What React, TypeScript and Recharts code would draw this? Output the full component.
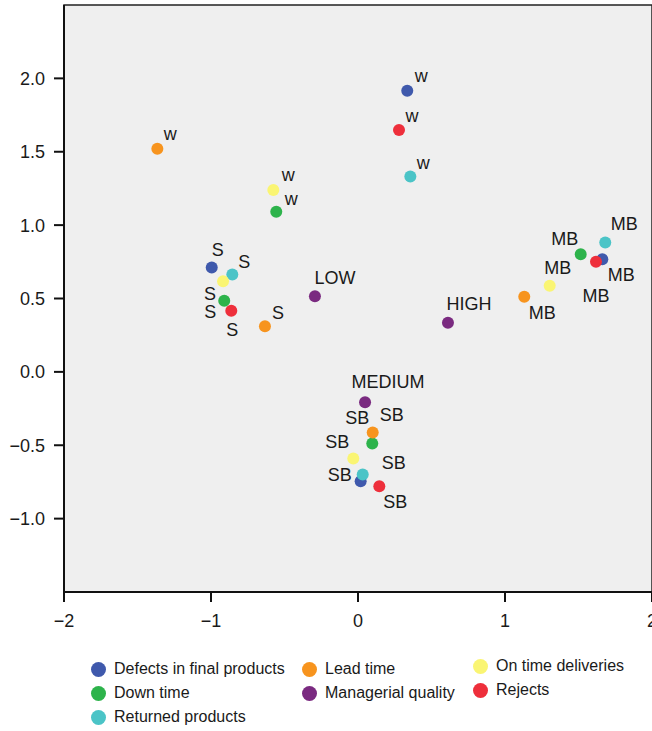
import React from 'react';
import { ScatterChart, Scatter, XAxis, YAxis, ReferenceArea } from 'recharts';

// cluster labels shared by the six indicators
const CLUSTER_LABELS = ['w', 'S', 'MB', 'SB'];
const QUALITY_LABELS = ['LOW', 'HIGH', 'MEDIUM'];

const defectsX = [0.335, -0.995, 1.662, 0.018];
const defectsY = [1.916, 0.712, 0.767, -0.746];
const downTimeX = [-0.556, -0.91, 1.515, 0.097];
const downTimeY = [1.091, 0.485, 0.801, -0.488];
const returnedX = [0.356, -0.855, 1.682, 0.032];
const returnedY = [1.331, 0.664, 0.881, -0.699];
const leadTimeX = [-1.365, -0.633, 1.131, 0.1];
const leadTimeY = [1.521, 0.311, 0.512, -0.413];
const qualityX = [-0.293, 0.612, 0.048];
const qualityY = [0.516, 0.335, -0.207];
const onTimeX = [-0.576, -0.918, 1.304, -0.032];
const onTimeY = [1.24, 0.617, 0.587, -0.59];
const rejectsX = [0.279, -0.862, 1.619, 0.145];
const rejectsY = [1.648, 0.417, 0.75, -0.78];

const X_TICKS = [-2, -1, 0, 1, 2];
const Y_TICKS = [-1, -0.5, 0, 0.5, 1, 1.5, 2];

// label placement (pixels from the dot centre), same order as the data
const LABEL_OFFSETS: Record<string, [number, number][]> = {
  'Defects in final products': [[14, -15], [6, -17], [19, 16], [-21, -6]],
  'Down time': [[15, -13], [-14, 11], [-16, -15], [-15, -25]],
  'Returned products': [[13, -14], [12, -12], [19, -19], [31, -11]],
  'Lead time': [[13, -15], [13, -13], [18, 16], [19, -17]],
  'Managerial quality': [[20, -18], [21, -19], [23, -20]],
  'On time deliveries': [[15, -15], [-13, 13], [8, -18], [-16, -16]],
  'Rejects': [[13, -14], [1, 19], [0, 34], [16, 16]],
};

const toRows = (xs: number[], ys: number[], labels: string[]) =>
  xs.map((x, i) => ({ x, y: ys[i], label: labels[i], i }));

const SERIES = [
  { name: 'Defects in final products', color: '#3F59AC', data: toRows(defectsX, defectsY, CLUSTER_LABELS) },
  { name: 'Down time', color: '#2DB34B', data: toRows(downTimeX, downTimeY, CLUSTER_LABELS) },
  { name: 'Returned products', color: '#4BC4C7', data: toRows(returnedX, returnedY, CLUSTER_LABELS) },
  { name: 'Lead time', color: '#F7941E', data: toRows(leadTimeX, leadTimeY, CLUSTER_LABELS) },
  { name: 'Managerial quality', color: '#7A2A80', data: toRows(qualityX, qualityY, QUALITY_LABELS) },
  { name: 'On time deliveries', color: '#FAF573', data: toRows(onTimeX, onTimeY, CLUSTER_LABELS) },
  { name: 'Rejects', color: '#EE2F3B', data: toRows(rejectsX, rejectsY, CLUSTER_LABELS) },
];

const LEGEND_POS = [
  [99, 669], [99, 693], [99, 717],
  [310, 669], [310, 693],
  [481, 666], [481, 690],
];

const FONT = '"Liberation Sans", Arial, Helvetica, sans-serif';

const fmt = (v: number, digits: number) =>
  v < 0 ? '\u2212' + Math.abs(v).toFixed(digits) : v.toFixed(digits);

function makeShape(name: string, color: string) {
  return (props: any) => {
    const { cx, cy, payload } = props;
    const off = LABEL_OFFSETS[name][payload.i] || [0, 0];
    return (
      <g>
        <circle cx={cx} cy={cy} r={6} fill={color} />
        <text
          x={cx + off[0]}
          y={cy + off[1]}
          textAnchor="middle"
          dominantBaseline="central"
          fontSize={18}
          fontFamily={FONT}
          fill="#1a1a1a"
        >
          {payload.label}
        </text>
      </g>
    );
  };
}

export default function App() {
  return (
    <div style={{ position: 'fixed', left: 0, top: 0, width: 652, height: 731, overflow: 'hidden', background: '#fff', fontFamily: FONT }}>
      <ScatterChart width={700} height={731} margin={{ top: 5, right: 48, bottom: 99, left: 0 }}>
        <ReferenceArea x1={-2} x2={2} y1={-1.5} y2={2.5} fill="#EFEFEF" fillOpacity={1} stroke="#222" strokeWidth={1.5} />
        <XAxis
          type="number"
          dataKey="x"
          domain={[-2, 2]}
          ticks={X_TICKS}
          tickFormatter={(v: number) => fmt(v, 0)}
          height={40}
          tickSize={10}
          tickMargin={12}
          stroke="#111"
          strokeWidth={2}
          tick={{ fontSize: 18, fill: '#1a1a1a', fontFamily: FONT }}
          allowDataOverflow
        />
        <YAxis
          type="number"
          dataKey="y"
          domain={[-1.5, 2.5]}
          ticks={Y_TICKS}
          tickFormatter={(v: number) => fmt(v, 1)}
          width={64}
          tickSize={10}
          tickMargin={9}
          stroke="#111"
          strokeWidth={2}
          tick={{ fontSize: 18, fill: '#1a1a1a', fontFamily: FONT }}
          allowDataOverflow
        />
        {SERIES.map((s) => (
          <Scatter
            key={s.name}
            name={s.name}
            data={s.data}
            fill={s.color}
            shape={makeShape(s.name, s.color)}
            isAnimationActive={false}
          />
        ))}
      </ScatterChart>
      {SERIES.map((s, i) => (
        <div
          key={s.name}
          style={{ position: 'absolute', left: LEGEND_POS[i][0] - 8, top: LEGEND_POS[i][1] - 10, height: 20, display: 'flex', alignItems: 'center', whiteSpace: 'nowrap' }}
        >
          <span style={{ width: 15, height: 15, borderRadius: '50%', background: s.color, display: 'inline-block', marginRight: 8 }} />
          <span style={{ fontSize: 16, color: '#1a1a1a' }}>{s.name}</span>
        </div>
      ))}
    </div>
  );
}
